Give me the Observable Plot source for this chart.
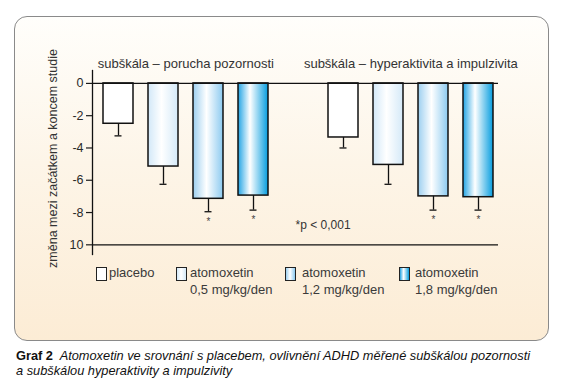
<!DOCTYPE html>
<html><head><meta charset="utf-8">
<script src="https://cdn.jsdelivr.net/npm/d3@7"></script>
<script src="https://cdn.jsdelivr.net/npm/@observablehq/plot@0.6"></script>
<style>
body{margin:0;background:#fff;font-family:"Liberation Sans",Arial,sans-serif;}
#wrap{position:relative;width:565px;height:392px;overflow:hidden;}
#panel{position:absolute;left:14px;top:16px;width:533px;height:323px;border:1px solid #8a8a8a;border-radius:13px;
  background:linear-gradient(to bottom,#fffefb 0%,#fdf5e8 45%,#fcecd5 100%);}
#chart{position:absolute;left:0;top:0;}
.leg{position:absolute;top:264px;font-size:13px;color:#3a3a3a;line-height:17px;white-space:pre;}
.box{position:absolute;top:267px;width:9px;height:12px;border:1px solid #222;box-sizing:content-box;}
#caption{position:absolute;left:16px;top:348px;font-size:12.8px;line-height:15px;color:#111;font-style:italic;white-space:nowrap;}
#caption b{font-style:normal;}
</style></head>
<body>
<div id="wrap">
  <div id="panel"></div>
  <div id="chart"></div>
  <div id="legend"></div>
  <div id="caption"></div>
</div>
<script>
// ---- data ----
const doses = ["placebo", "atomoxetin\n0,5 mg/kg/den", "atomoxetin\n1,2 mg/kg/den", "atomoxetin\n1,8 mg/kg/den"];
const subscales = ["subškála – porucha pozornosti", "subškála – hyperaktivita a impulzivita"];
const attentionMean = [-2.5, -5.15, -7.15, -6.95];
const attentionErrEnd = [-3.25, -6.25, -7.95, -7.85];
const hyperMean = [-3.35, -5.05, -7.0, -7.05];
const hyperErrEnd = [-4.0, -6.25, -7.85, -7.85];
const significant = [false, false, true, true];
const yTicks = [0, -2, -4, -6, -8, -10];
const yTickLabels = ["0", "-2", "-4", "-6", "-8", "10"];
const yLabel = "změna mezi začátkem a koncem studie";
const pNote = "*p < 0,001";
const captionBold = "Graf 2";
const captionText = "Atomoxetin ve srovnání s placebem, ovlivnění ADHD měřené subškálou pozornosti\na subškálou hyperaktivity a impulzivity";

// ---- styles ----
const fills = ["#ffffff", "url(#g05)", "url(#g12)", "url(#g18)"];
const gradStops = [
  [["0%", "#d2e8f8"], ["45%", "#ffffff"], ["100%", "#d4e9f8"]],
  [["0%", "#9ccff0"], ["45%", "#ffffff"], ["100%", "#8ccaf0"]],
  [["0%", "#22a4e4"], ["40%", "#ffffff"], ["100%", "#069ddf"]]
];
const gradIds = ["g05", "g12", "g18"];

// ---- table ----
const means = [attentionMean, hyperMean];
const errs = [attentionErrEnd, hyperErrEnd];
const rows = [];
subscales.forEach((s, si) => doses.forEach((d, di) => rows.push({
  slot: `${si}-${di}`, di, dose: d, mean: means[si][di], err: errs[si][di], sig: significant[di]
})));
const slots = ["0-0", "0-1", "0-2", "0-3", "gap", "1-0", "1-1", "1-2", "1-3"];

const chart = Plot.plot({
  width: 565, height: 340,
  marginLeft: 92, marginRight: 67, marginTop: 70, marginBottom: 86,
  style: {fontFamily: '"Liberation Sans", Arial, sans-serif', background: "transparent", color: "#1a1a1a", overflow: "visible"},
  x: {domain: slots, range: [94, 501.7], paddingInner: 0.34, paddingOuter: 0.17, axis: null},
  y: {domain: [-10.6, 0.8], axis: null},
  marks: [
    ...doses.map((d, di) => Plot.barY(rows.filter(r => r.di === di), {x: "slot", y1: () => 0, y2: "mean", fill: fills[di], stroke: "#111", strokeWidth: 1.5})),
    Plot.ruleX(rows, {x: "slot", y1: "mean", y2: "err", stroke: "#111", strokeWidth: 1.3}),
    Plot.tickY(rows, {x: "slot", y: "err", insetLeft: 11.5, insetRight: 11.5, stroke: "#111", strokeWidth: 1.3}),
    Plot.text(rows.filter(r => r.sig), {x: "slot", y: "err", text: () => "*", dy: 10, fontSize: 10, fill: "#444"}),
    Plot.ruleY([yTicks[0], yTicks[yTicks.length - 1]], {stroke: "#111", strokeWidth: 1.3}),
    Plot.frame({anchor: "left", stroke: "#111", strokeWidth: 1.3}),
    Plot.axisY({ticks: yTicks, tickFormat: d => yTickLabels[yTicks.indexOf(d)], tickSize: 6, tickPadding: 3, fontSize: 12.5, label: null, strokeWidth: 1.2, fill: "#2a2a2a"}),
    Plot.text(subscales, {x: (d, i) => `${i}-2`, frameAnchor: "top", dx: -22.65, dy: -12, fontSize: 13, fill: "#333"}),
    Plot.text([yLabel], {frameAnchor: "left", textAnchor: "middle", dx: -40, dy: -4, rotate: -90, fontSize: 12.5, fill: "#333"}),
    Plot.text([pNote], {x: () => "gap", frameAnchor: "bottom", dy: -26, dx: -3, textAnchor: "start", fontSize: 12, fill: "#333"})
  ]
});

// gradients
const defs = d3.select(chart).insert("defs", ":first-child");
gradIds.forEach((id, i) => {
  const g = defs.append("linearGradient").attr("id", id).attr("x1", 0).attr("x2", 1).attr("y1", 0).attr("y2", 0);
  gradStops[i].forEach(([o, c]) => g.append("stop").attr("offset", o).attr("stop-color", c));
});
document.getElementById("chart").appendChild(chart);

// legend
const legendBoxX = [96, 176, 285, 399];
const legendTextX = [109, 190, 302, 415];
const legend = document.getElementById("legend");
const cssFills = ["#ffffff"].concat(gradStops.map(st => `linear-gradient(to right, ${st.map(([o, c]) => `${c} ${o}`).join(", ")})`));
doses.forEach((d, i) => {
  const b = document.createElement("div");
  b.className = "box";
  b.style.left = legendBoxX[i] + "px";
  b.style.background = cssFills[i];
  legend.appendChild(b);
  const t = document.createElement("div");
  t.className = "leg";
  t.style.left = legendTextX[i] + "px";
  t.textContent = d;
  legend.appendChild(t);
});

// caption
const cap = document.getElementById("caption");
const lines = captionText.split("\n");
cap.innerHTML = `<b>${captionBold}</b>&nbsp; ${lines[0]}<br>${lines[1]}`;
</script>
</body></html>
